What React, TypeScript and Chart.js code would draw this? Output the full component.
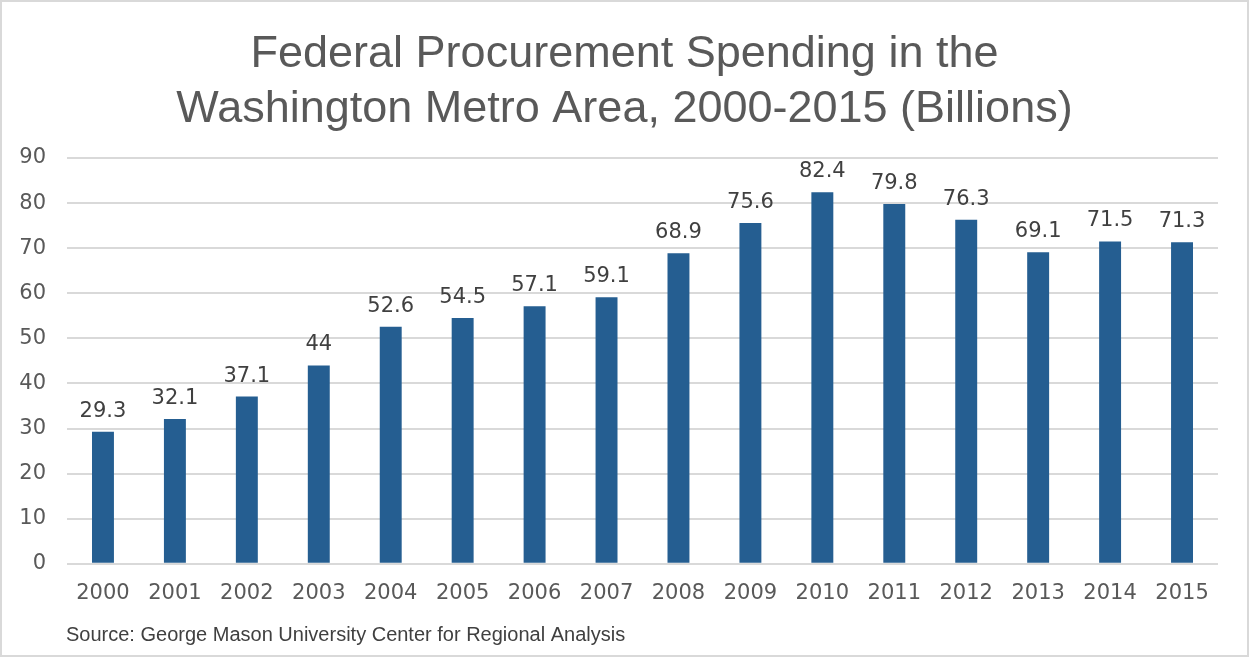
import React, { useEffect, useRef } from "react";
import { Chart, registerables } from "chart.js";

Chart.register(...registerables);

const years = ["2000","2001","2002","2003","2004","2005","2006","2007","2008","2009","2010","2011","2012","2013","2014","2015"];
const spending = [29.3, 32.1, 37.1, 44, 52.6, 54.5, 57.1, 59.1, 68.9, 75.6, 82.4, 79.8, 76.3, 69.1, 71.5, 71.3];
const titleLines = ["Federal Procurement Spending in the", "Washington Metro Area, 2000-2015 (Billions)"];
const sourceText = "Source: George Mason University Center for Regional Analysis";

const TEXT = "#595959";
const TITLE_FONT = "'Liberation Sans', Arial, sans-serif";
const FONT = "'DejaVu Sans', sans-serif";

export default function App() {
  const ref = useRef<HTMLCanvasElement | null>(null);
  useEffect(() => {
    document.body.style.margin = "0";
    const labelsPlugin = {
      id: "valueLabels",
      afterDatasetsDraw(chart: any) {
        const ctx = chart.ctx;
        const meta = chart.getDatasetMeta(0);
        ctx.save();
        ctx.fillStyle = "#404040";
        ctx.font = `21px ${FONT}`;
        ctx.textAlign = "center";
        ctx.textBaseline = "alphabetic";
        meta.data.forEach((bar: any, i: number) => {
          ctx.fillText(String(spending[i]), bar.x, bar.y - 15);
        });
        ctx.restore();
      },
    };
    const textPlugin = {
      id: "titleAndSource",
      afterDraw(chart: any) {
        const ctx = chart.ctx;
        ctx.save();
        ctx.fillStyle = TEXT;
        ctx.font = `45px ${TITLE_FONT}`;
        ctx.textAlign = "center";
        ctx.textBaseline = "alphabetic";
        ctx.fillText(titleLines[0], 622.5, 65);
        ctx.fillText(titleLines[1], 622.5, 120);
        ctx.fillStyle = "#404040";
        ctx.font = `20px ${TITLE_FONT}`;
        ctx.textAlign = "left";
        ctx.textBaseline = "middle";
        ctx.fillText(sourceText, 64, 633);
        ctx.restore();
      },
    };
    const chart = new Chart(ref.current!, {
      type: "bar",
      data: {
        labels: years,
        datasets: [
          {
            data: spending,
            backgroundColor: "#255E91",
            barPercentage: 0.305,
            categoryPercentage: 1,
          },
        ],
      },
      plugins: [labelsPlugin, textPlugin],
      options: {
        animation: false,
        responsive: false,
        maintainAspectRatio: false,
        layout: { padding: { left: 15, right: 29, top: 156, bottom: 32 } },
        plugins: {
          legend: { display: false },
          tooltip: { enabled: false },
          title: { display: false },
        },
        scales: {
          x: {
            grid: { display: false, drawTicks: false },
            border: { display: false },
            ticks: { color: TEXT, font: { family: FONT, size: 21 }, padding: 17, maxRotation: 0, minRotation: 0, autoSkip: false },
          },
          y: {
            min: 0,
            max: 90,
            ticks: { stepSize: 10, color: TEXT, font: { family: FONT, size: 21 }, padding: 21 },
            grid: { color: "#d9d9d9", lineWidth: 2, drawTicks: false },
            border: { display: false },
            afterFit(scale: any) {
              scale.width = 50;
            },
          },
        },
      },
    });
    return () => chart.destroy();
  }, []);
  return (
    <div
      style={{
        position: "fixed",
        left: 0,
        top: 0,
        width: 1249,
        height: 657,
        boxSizing: "border-box",
        border: "2px solid #d9d9d9",
        background: "#fff",
      }}
    >
      <canvas ref={ref} width={1245} height={653} />
    </div>
  );
}
